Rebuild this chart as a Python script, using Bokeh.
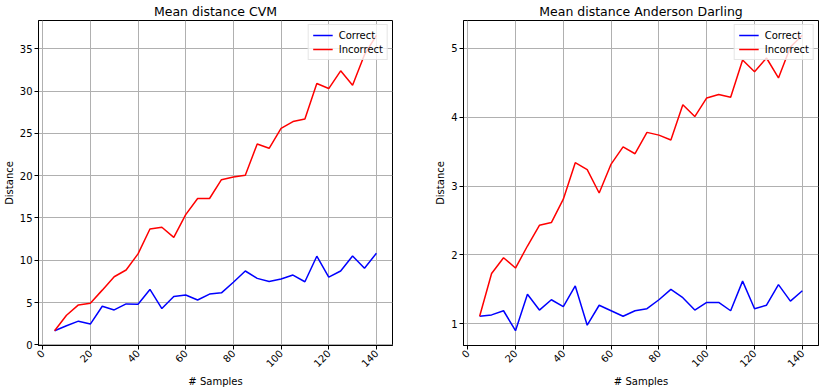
import math
from bokeh.plotting import figure
from bokeh.layouts import row
from bokeh.models import Range1d, FixedTicker, Legend, LegendItem, Title
from bokeh.embed import file_html
from bokeh.resources import INLINE

samples = [5, 10, 15, 20, 25, 30, 35, 40, 45, 50, 55, 60, 65, 70,
           75, 80, 85, 90, 95, 100, 105, 110, 115, 120, 125, 130, 135, 140]

cvm_correct = [1.67, 2.26, 2.80, 2.46, 4.56, 4.13, 4.84, 4.80, 6.55, 4.29,
               5.71, 5.90, 5.30, 6.00, 6.15, 7.40, 8.73, 7.86, 7.50, 7.78,
               8.25, 7.46, 10.48, 8.00, 8.73, 10.50, 9.05, 10.83]
cvm_incorrect = [1.67, 3.50, 4.72, 4.92, 6.47, 8.05, 8.85, 10.75, 13.70, 13.90,
                 12.70, 15.40, 17.30, 17.30, 19.53, 19.85, 20.04, 23.75, 23.24, 25.60,
                 26.40, 26.70, 30.90, 30.30, 32.40, 30.70, 34.30, 36.60]

ad_correct = [1.11, 1.13, 1.19, 0.90, 1.43, 1.20, 1.35, 1.25, 1.55, 0.98,
              1.27, 1.19, 1.11, 1.19, 1.22, 1.35, 1.50, 1.38, 1.20, 1.31,
              1.31, 1.19, 1.62, 1.22, 1.27, 1.57, 1.33, 1.48]
ad_incorrect = [1.11, 1.73, 1.96, 1.81, 2.13, 2.43, 2.47, 2.81, 3.34, 3.24,
                2.90, 3.32, 3.57, 3.47, 3.78, 3.74, 3.67, 4.18, 4.01, 4.28,
                4.33, 4.29, 4.83, 4.66, 4.86, 4.57, 5.02, 5.19]

x_ticks = [0, 20, 40, 60, 80, 100, 120, 140]
cvm_ticks = [0, 5, 10, 15, 20, 25, 30, 35]
ad_ticks = [1, 2, 3, 4, 5]

titles = ["Mean distance CVM", "Mean distance Anderson Darling"]
series_names = ["Correct", "Incorrect"]
x_label = "# Samples"
y_label = "Distance"

FONT = "DejaVu Sans"


def pad_range(vals, frac=0.05):
    lo, hi = min(vals), max(vals)
    d = (hi - lo) * frac
    return lo - d, hi + d


def make_fig(title, xs, yc, yi, yticks, fw, bl, br):
    x0, x1 = pad_range(xs)
    y0, y1 = pad_range(yc + yi)
    p = figure(frame_width=fw, height=391, output_backend="svg", toolbar_location=None,
               x_range=Range1d(x0, x1), y_range=Range1d(y0, y1),
               min_border_left=bl, min_border_right=br, min_border_top=0,
               min_border_bottom=46)
    p.title.text = title
    p.title.align = "center"
    p.title.text_font = FONT
    p.title.text_font_size = "12.5px"
    p.title.text_font_style = "normal"
    p.title.text_color = "#000000"
    p.title.standoff = 3
    p.title.offset = 0

    p.background_fill_color = "white"
    p.border_fill_color = "white"
    p.outline_line_color = "#000000"
    p.outline_line_width = 1
    p.outline_line_alpha = 1

    r1 = p.line(xs, yc, line_color="#0000ff", line_width=1.5)
    r2 = p.line(xs, yi, line_color="#ff0000", line_width=1.5)

    for ax in (p.xaxis[0], p.yaxis[0]):
        ax.axis_line_color = "#000000"
        ax.major_tick_line_color = "#000000"
        ax.major_tick_out = 4
        ax.major_tick_in = 0
        ax.minor_tick_line_color = None
        ax.major_label_text_font = FONT
        ax.major_label_text_font_size = "10px"
        ax.major_label_text_color = "#000000"
        ax.axis_label_text_font = FONT
        ax.axis_label_text_font_size = "10px"
        ax.axis_label_text_font_style = "normal"
        ax.axis_label_text_color = "#000000"
        ax.major_label_standoff = 2
        ax.axis_label_standoff = 2

    p.xaxis.major_label_standoff = 2
    p.xaxis.ticker = FixedTicker(ticks=x_ticks)
    p.yaxis.ticker = FixedTicker(ticks=yticks)
    p.xaxis.major_label_orientation = math.pi / 4
    p.yaxis.axis_label = y_label

    xl = Title(text=x_label, align="center", text_font=FONT, text_font_size="10px",
               text_font_style="normal", text_color="#000000", standoff=0, offset=0)
    p.add_layout(xl, "below")

    p.grid.grid_line_color = "#b0b0b0"
    p.grid.grid_line_width = 1
    p.xgrid.ticker = FixedTicker(ticks=x_ticks)
    p.ygrid.ticker = FixedTicker(ticks=yticks)

    legend = Legend(items=[LegendItem(label=series_names[0], renderers=[r1]),
                           LegendItem(label=series_names[1], renderers=[r2])],
                    location="top_right")
    legend.label_text_font = FONT
    legend.label_text_font_size = "10px"
    legend.label_text_color = "#000000"
    legend.glyph_width = 20
    legend.glyph_height = 12
    legend.label_height = 12
    legend.spacing = 2
    legend.padding = 4
    legend.margin = 4
    legend.label_standoff = 6
    legend.border_line_color = "#cccccc"
    legend.border_line_width = 1
    legend.background_fill_color = "white"
    legend.background_fill_alpha = 0.8
    p.add_layout(legend)
    return p


p1 = make_fig(titles[0], samples, cvm_correct, cvm_incorrect, cvm_ticks, 354, 37, 39)
p2 = make_fig(titles[1], samples, ad_correct, ad_incorrect, ad_ticks, 355, 32, 7)

layout = row(p1, p2)
open("out.html", "w").write(file_html(layout, INLINE))
